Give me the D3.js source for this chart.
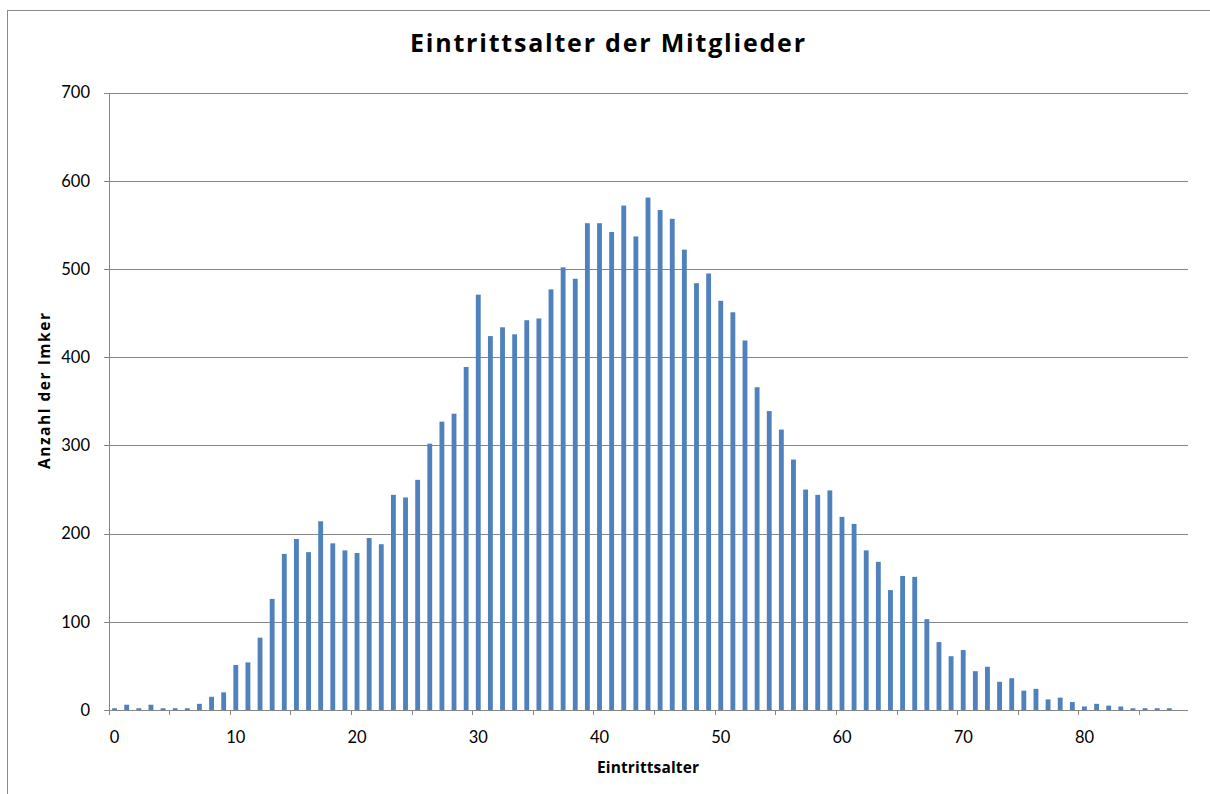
<!DOCTYPE html>
<html>
<head>
<meta charset="utf-8">
<script src="https://cdn.jsdelivr.net/npm/d3@7"></script>
<style>
  html, body { margin: 0; padding: 0; background: #ffffff; }
  svg { display: block; }
</style>
</head>
<body>
<svg id="chart" width="1210" height="794"></svg>
<script>
// ---- Data ----
const ages = d3.range(0, 89); // categories 0 .. 88
const counts = [
  2, 6, 2, 6, 2, 2, 2, 7, 15, 20,
  51, 54, 82, 126, 177, 194, 179, 214, 189, 181,
  178, 195, 188, 244, 241, 261, 302, 327, 336, 389,
  471, 424, 434, 426, 442, 444, 477, 502, 489, 552,
  552, 542, 572, 537, 581, 567, 557, 522, 484, 495,
  464, 451, 419, 366, 339, 318, 284, 250, 244, 249,
  219, 211, 181, 168, 136, 152, 151, 103, 77, 61,
  68, 44, 49, 32, 36, 22, 24, 12, 14, 9,
  4, 7, 5, 4, 2, 2, 2, 2, 0
];
const yTickValues = [0, 100, 200, 300, 400, 500, 600, 700];
const xLabelValues = [0, 10, 20, 30, 40, 50, 60, 70, 80];
const xTickBoundaries = [0, 5, 10, 15, 20, 25, 30, 35, 40, 45, 50, 55, 60, 65, 70, 75, 80, 85];
const titleText = "Eintrittsalter der Mitglieder";
const xTitleText = "Eintrittsalter";
const yTitleText = "Anzahl der Imker";

// ---- Layout ----
const plot = { left: 108.5, right: 1187.5, top: 92.7, bottom: 710 };
const gridColor = "#868686";
const barColor = "#4F81BD";
const tickFont = "Lato, 'Open Sans', sans-serif";
const titleFont = "'Open Sans', Lato, sans-serif";

const svg = d3.select("#chart");

// outer chart frame (extends beyond visible area on the right/bottom)
svg.append("rect")
  .attr("x", 7.5).attr("y", 10.5)
  .attr("width", 1400).attr("height", 1000)
  .attr("fill", "#ffffff")
  .attr("stroke", "#8c8c8c").attr("stroke-width", 1);

const x = d3.scaleBand()
  .domain(ages)
  .range([plot.left, plot.right])
  .paddingInner(0.6)
  .paddingOuter(0.3);

const xb = d3.scaleLinear()
  .domain([0, ages.length])
  .range([plot.left, plot.right]);

const y = d3.scaleLinear()
  .domain([0, 700])
  .range([plot.bottom, plot.top]);

// gridlines
const grid = svg.append("g")
  .attr("transform", `translate(${plot.left},0)`)
  .call(d3.axisLeft(y)
    .tickValues(yTickValues.filter(v => v > 0))
    .tickSize(-(plot.right - plot.left))
    .tickFormat(""));
grid.select(".domain").remove();
grid.selectAll("line").attr("stroke", gridColor).attr("stroke-width", 1).attr("shape-rendering", "crispEdges");

// bars
svg.append("g")
  .selectAll("rect")
  .data(ages.map((a, i) => ({ age: a, value: counts[i] })))
  .join("rect")
  .attr("x", d => x(d.age))
  .attr("width", x.bandwidth())
  .attr("y", d => y(d.value))
  .attr("height", d => y(0) - y(d.value))
  .attr("fill", barColor);

// y axis
const yAxis = svg.append("g")
  .attr("transform", `translate(${plot.left},0)`)
  .call(d3.axisLeft(y)
    .tickValues(yTickValues)
    .tickSize(5)
    .tickSizeOuter(0)
    .tickPadding(13.5));
yAxis.select(".domain").attr("stroke", gridColor).attr("shape-rendering", "crispEdges");
yAxis.selectAll(".tick line").attr("stroke", gridColor).attr("shape-rendering", "crispEdges");
yAxis.selectAll("text")
  .attr("font-family", tickFont)
  .attr("font-size", 16.5)
  .attr("fill", "#000");

// x axis: line + tick marks at category boundaries
const xAxis = svg.append("g")
  .attr("transform", `translate(0,${plot.bottom})`)
  .call(d3.axisBottom(xb)
    .tickValues(xTickBoundaries)
    .tickSize(5)
    .tickSizeOuter(0)
    .tickFormat(""));
xAxis.select(".domain").attr("stroke", gridColor).attr("shape-rendering", "crispEdges");
xAxis.selectAll(".tick line").attr("stroke", gridColor).attr("shape-rendering", "crispEdges");

// x labels centred under categories
const xLab = svg.append("g")
  .attr("transform", `translate(0,${plot.bottom})`)
  .call(d3.axisBottom(x)
    .tickValues(xLabelValues)
    .tickSize(0)
    .tickPadding(21.5));
xLab.select(".domain").remove();
xLab.selectAll("text")
  .attr("font-family", tickFont)
  .attr("font-size", 16.5)
  .attr("fill", "#000");

// titles
function fitText(sel, target) {
  const w = sel.node().getComputedTextLength();
  if (Math.abs(w - target) > 1) {
    sel.attr("textLength", target).attr("lengthAdjust", "spacing");
  }
}

const title = svg.append("text")
  .attr("x", 607.5).attr("y", 51.7)
  .attr("text-anchor", "middle")
  .attr("font-family", titleFont)
  .attr("font-weight", "bold")
  .attr("font-size", 25)
  .attr("fill", "#000")
  .text(titleText);
fitText(title, 395);

const xTitle = svg.append("text")
  .attr("x", (plot.left + plot.right) / 2).attr("y", 772.7)
  .attr("text-anchor", "middle")
  .attr("font-family", titleFont)
  .attr("font-weight", "bold")
  .attr("font-size", 15.5)
  .attr("fill", "#000")
  .text(xTitleText);
fitText(xTitle, 102);

const yTitle = svg.append("text")
  .attr("transform", "translate(50,391) rotate(-90)")
  .attr("text-anchor", "middle")
  .attr("font-family", titleFont)
  .attr("font-weight", "bold")
  .attr("font-size", 15.5)
  .attr("fill", "#000")
  .text(yTitleText);
fitText(yTitle, 156);
</script>
</body>
</html>
